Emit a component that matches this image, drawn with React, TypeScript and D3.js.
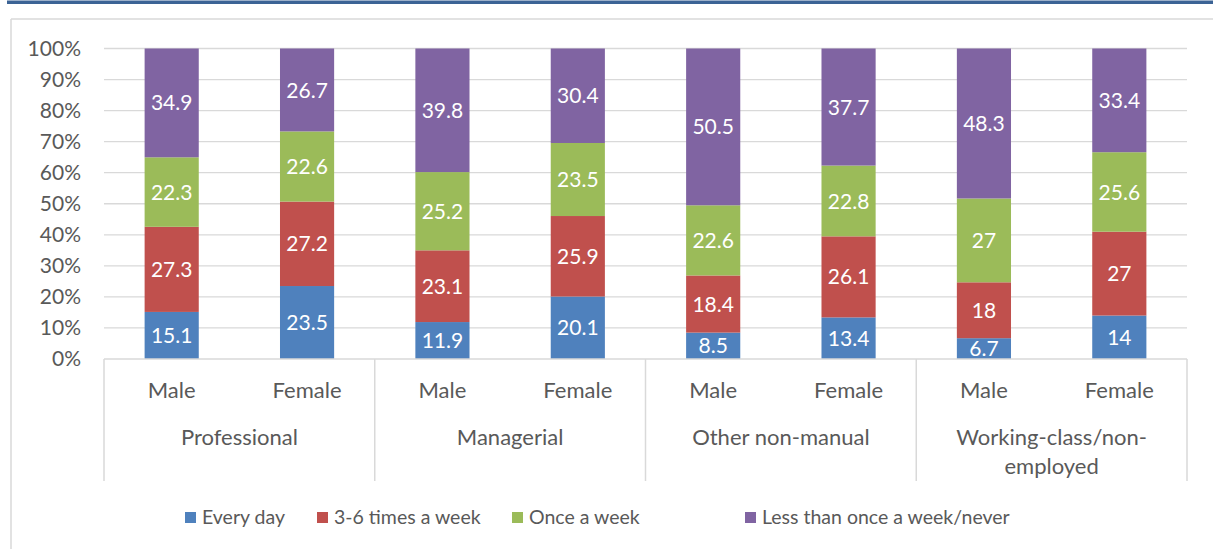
import React from "react";
import * as d3 from "d3";

const groups = ["Professional", "Managerial", "Other non-manual", "Working-class/non-employed"];
const genders = ["Male", "Female"];
const seriesNames = ["Every day", "3-6 times a week", "Once a week", "Less than once a week/never"];
const colors = ["#4f81bd", "#c0504d", "#9bbb59", "#8064a2"];

const everyDay = [15.1, 23.5, 11.9, 20.1, 8.5, 13.4, 6.7, 14];
const threeToSix = [27.3, 27.2, 23.1, 25.9, 18.4, 26.1, 18, 27];
const onceAWeek = [22.3, 22.6, 25.2, 23.5, 22.6, 22.8, 27, 25.6];
const lessThanOnce = [34.9, 26.7, 39.8, 30.4, 50.5, 37.7, 48.3, 33.4];
const yTicks = [0, 10, 20, 30, 40, 50, 60, 70, 80, 90, 100];

const W = 1213;
const H = 549;
const FONT = "Lato, 'Open Sans', sans-serif";
const TXT = "#595959";
const GRID = "#d9d9d9";

export default function App() {
  const left = 104, right = 1187, top = 48.5, bottom = 359;
  const bars = groups.flatMap((g) => genders.map((s) => `${g}|${s}`));
  const x = d3.scaleBand().domain(bars).range([left, right]).paddingInner(0.6).paddingOuter(0.3);
  const xg = d3.scaleBand().domain(groups).range([left, right]);
  const y = d3.scaleLinear().domain([0, 100]).range([bottom, top]);

  const rows = bars.map((key, i) => {
    const obj: any = { key };
    const vals = [everyDay[i], threeToSix[i], onceAWeek[i], lessThanOnce[i]];
    const sum = d3.sum(vals);
    seriesNames.forEach((n, j) => (obj[n] = (vals[j] / sum) * 100));
    obj.raw = vals;
    return obj;
  });
  const stacked = d3.stack().keys(seriesNames)(rows as any);

  const legendX = [185, 317, 512, 745];

  return (
    <svg width={W} height={H} style={{ position: "absolute", left: 0, top: 0 }} fontFamily={FONT}>
      <rect x={0} y={0} width={W} height={H} fill="#fff" />
      <rect x={7} y={0.5} width={W - 7} height={3.5} fill="#3b6395" />
      <line x1={11} y1={19} x2={W} y2={19} stroke={GRID} strokeWidth={1.5} />
      <line x1={11} y1={19} x2={11} y2={H} stroke={GRID} strokeWidth={1.5} />
      {yTicks.map((t) => (
        <g key={t}>
          {t > 0 && <line x1={left} x2={right} y1={y(t)} y2={y(t)} stroke={GRID} strokeWidth={1.3} />}
          <text x={81} y={y(t)} dy="0.35em" textAnchor="end" fontSize={21} fill={TXT}>
            {t}%
          </text>
        </g>
      ))}
      {stacked.map((layer, si) => (
        <g key={si}>
          {layer.map((d, bi) => {
            const key = (d as any).data.key;
            const y0 = y(d[0]), y1 = y(d[1]);
            const raw = (d as any).data.raw[si];
            return (
              <g key={bi}>
                <rect x={x(key)} y={y1} width={x.bandwidth()} height={y0 - y1} fill={colors[si]} />
                <text
                  x={(x(key) as number) + x.bandwidth() / 2}
                  y={(y0 + y1) / 2}
                  dy="0.36em"
                  textAnchor="middle"
                  fontSize={21}
                  fill="#fff"
                >
                  {String(raw)}
                </text>
              </g>
            );
          })}
        </g>
      ))}
      <line x1={left} x2={right} y1={bottom} y2={bottom} stroke={GRID} strokeWidth={1.5} />
      {[...groups.map((g) => xg(g) as number), right].map((vx, i) => (
        <line key={i} x1={vx} x2={vx} y1={bottom} y2={481} stroke={GRID} strokeWidth={1.5} />
      ))}
      {bars.map((key) => (
        <text key={key} x={(x(key) as number) + x.bandwidth() / 2} y={390} dy="0.35em" textAnchor="middle" fontSize={22} fill={TXT}>
          {key.split("|")[1]}
        </text>
      ))}
      {groups.map((g) => {
        const cx = (xg(g) as number) + xg.bandwidth() / 2;
        const lines = g === "Working-class/non-employed" ? ["Working-class/non-", "employed"] : [g];
        return (
          <text key={g} x={cx} y={437} textAnchor="middle" fontSize={22} fill={TXT}>
            {lines.map((l, i) => (
              <tspan key={i} x={cx} dy={i === 0 ? "0.35em" : 29}>
                {l}
              </tspan>
            ))}
          </text>
        );
      })}
      {seriesNames.map((n, i) => (
        <g key={n}>
          <rect x={legendX[i]} y={512} width={11} height={11} fill={colors[i]} />
          <text x={legendX[i] + 17} y={517.5} dy="0.35em" fontSize={19.5} fill={TXT}>
            {n}
          </text>
        </g>
      ))}
    </svg>
  );
}
